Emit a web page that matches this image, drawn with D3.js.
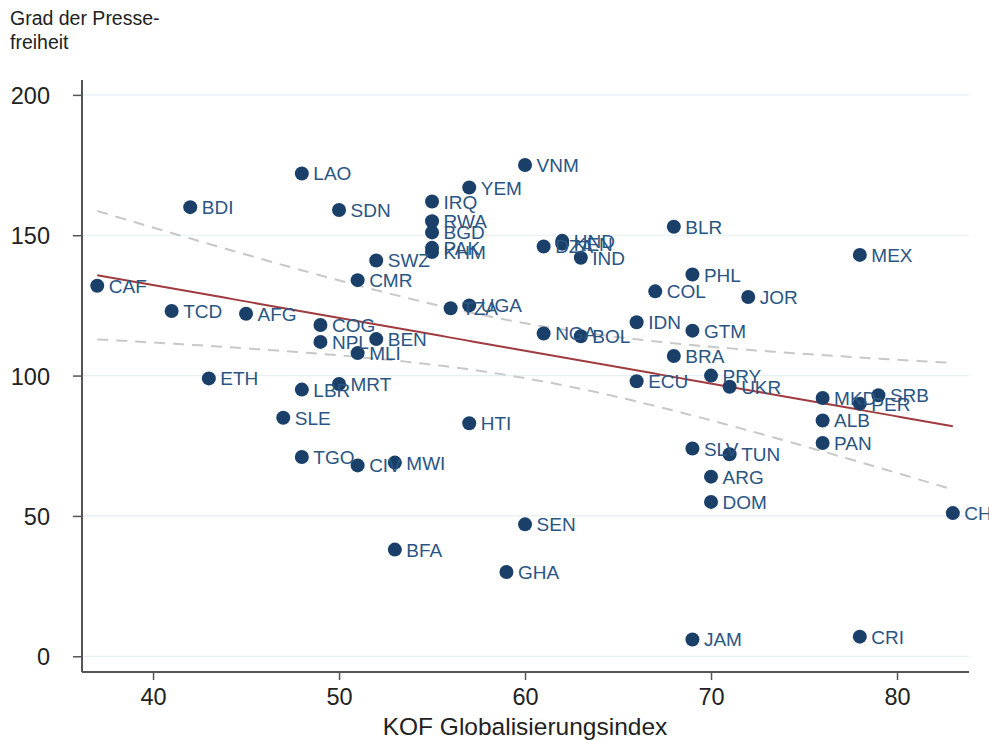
<!DOCTYPE html>
<html>
<head>
<meta charset="utf-8">
<script src="https://cdn.jsdelivr.net/npm/d3@7/dist/d3.min.js"></script>
<style>
  html, body { margin: 0; padding: 0; background: #fff; }
  svg { display: block; font-family: "Liberation Sans", Arial, sans-serif; }
</style>
</head>
<body>
<svg id="chart" width="989" height="740"></svg>
<script>
// Country codes, KOF globalisation index and press freedom score
const countries = ["CAF","BDI","LAO","SDN","IRQ","RWA","BGD","PAK","KHM","YEM","VNM","SWZ","CMR",
  "TCD","AFG","COG","NPL","BEN","MLI","TZA","UGA","ETH","LBR","MRT","SLE","TGO","CIV","MWI","BFA",
  "HTI","SEN","GHA","JAM","CRI","CHN","DZA","HND","KEN","IND","BLR","PHL","COL","JOR","MEX","IDN",
  "GTM","NGA","BOL","BRA","ECU","PRY","UKR","MKD","PER","SRB","ALB","PAN","SLV","TUN","ARG","DOM"];
const kofIndex = [37,42,48,50,55,55,55,55,55,57,60,52,51,
  41,45,49,49,52,51,56,57,43,48,50,47,48,51,53,53,
  57,60,59,69,78,83,61,62,62,63,68,69,67,72,78,66,
  69,61,63,68,66,70,71,76,78,79,76,76,69,71,70,70];
const pressScore = [132,160,172,159,162,155,151,145.5,144,167,175,141,134,
  123,122,118,112,113,108,124,125,99,95,97,85,71,68,69,38,
  83,47,30,6,7,51,146,148,147,142,153,136,130,128,143,119,
  116,115,114,107,98,100,96,92,90,93,84,76,74,72,64,55];

const xTicks = [40,50,60,70,80];
const yTicks = [0,50,100,150,200];
const yTitleLines = ["Grad der Presse-", "freiheit"];
const xTitle = "KOF Globalisierungsindex";

const svg = d3.select("#chart");
const plotL = 82, plotR = 969, plotT = 80, plotB = 672;

const x = d3.scaleLinear().domain([36.18, 83.87]).range([plotL, plotR]);
const y = d3.scaleLinear().domain([-5.6, 205.3]).range([plotB, plotT]);

// horizontal grid
svg.append("g").selectAll("line").data(yTicks).join("line")
  .attr("x1", plotL).attr("x2", plotR)
  .attr("y1", d => y(d)).attr("y2", d => y(d))
  .attr("stroke", "#e6eff3").attr("stroke-width", 1.2);

// linear fit with 95% confidence band of the mean
const pts = countries.map((c, i) => ({ c, x: kofIndex[i], y: pressScore[i] }));
const n = pts.length;
const mx = d3.mean(pts, d => d.x), my = d3.mean(pts, d => d.y);
const sxx = d3.sum(pts, d => (d.x - mx) ** 2);
const sxy = d3.sum(pts, d => (d.x - mx) * (d.y - my));
const slope = sxy / sxx, icpt = my - slope * mx;
const sse = d3.sum(pts, d => (d.y - (icpt + slope * d.x)) ** 2);
const s = Math.sqrt(sse / (n - 2));
const tCrit = 2.0;
const [xMin, xMax] = d3.extent(kofIndex);
const grid = d3.range(0, 101).map(k => xMin + (xMax - xMin) * k / 100);
const band = grid.map(g => {
  const f = icpt + slope * g;
  const se = s * Math.sqrt(1 / n + (g - mx) ** 2 / sxx);
  return { g, f, lo: f - tCrit * se, hi: f + tCrit * se };
});

const lineOf = key => d3.line().x(d => x(d.g)).y(d => y(d[key]));
["hi", "lo"].forEach(k => {
  svg.append("path").datum(band).attr("d", lineOf(k))
    .attr("fill", "none").attr("stroke", "#c8c8c8").attr("stroke-width", 2)
    .attr("stroke-dasharray", "11,8");
});
svg.append("path").datum(band).attr("d", lineOf("f"))
  .attr("fill", "none").attr("stroke", "#a03c40").attr("stroke-width", 2);

// points and labels
const pg = svg.append("g");
pg.selectAll("circle").data(pts).join("circle")
  .attr("cx", d => x(d.x)).attr("cy", d => y(d.y)).attr("r", 7)
  .attr("fill", "#1a406a");
pg.selectAll("text").data(pts).join("text")
  .attr("x", d => x(d.x) + 11.5).attr("y", d => y(d.y) + 7)
  .attr("font-size", 19).attr("fill", "#2a5583")
  .text(d => d.c);

// axes
const xAxis = d3.axisBottom(x).tickValues(xTicks).tickSize(8).tickPadding(8);
const gx = svg.append("g").attr("transform", `translate(0,${plotB})`).call(xAxis);
gx.select(".domain").attr("d", `M${plotL},0H${plotR}`);
const yAxis = d3.axisLeft(y).tickValues(yTicks).tickSize(9).tickPadding(23);
const gy = svg.append("g").attr("transform", `translate(${plotL},0)`).call(yAxis);
gy.select(".domain").attr("d", `M0,${plotT}V${plotB}`);
[gx, gy].forEach(g => {
  g.select(".domain").attr("stroke", "#555").attr("stroke-width", 2);
  g.selectAll(".tick line").attr("stroke", "#555").attr("stroke-width", 1.5);
  g.selectAll(".tick text").attr("font-size", 23.5).attr("fill", "#222")
    .attr("font-family", "Liberation Sans, Arial, sans-serif");
});
gy.selectAll(".tick text").attr("dy", "0.36em");

// titles
svg.append("g").selectAll("text").data(yTitleLines).join("text")
  .attr("x", 10).attr("y", (d, i) => 25 + i * 24)
  .attr("font-size", 19.5).attr("fill", "#222").text(d => d);
svg.append("text").attr("x", 525).attr("y", 735).attr("text-anchor", "middle")
  .attr("font-size", 24.5).attr("fill", "#222").text(xTitle);
</script>
</body>
</html>
